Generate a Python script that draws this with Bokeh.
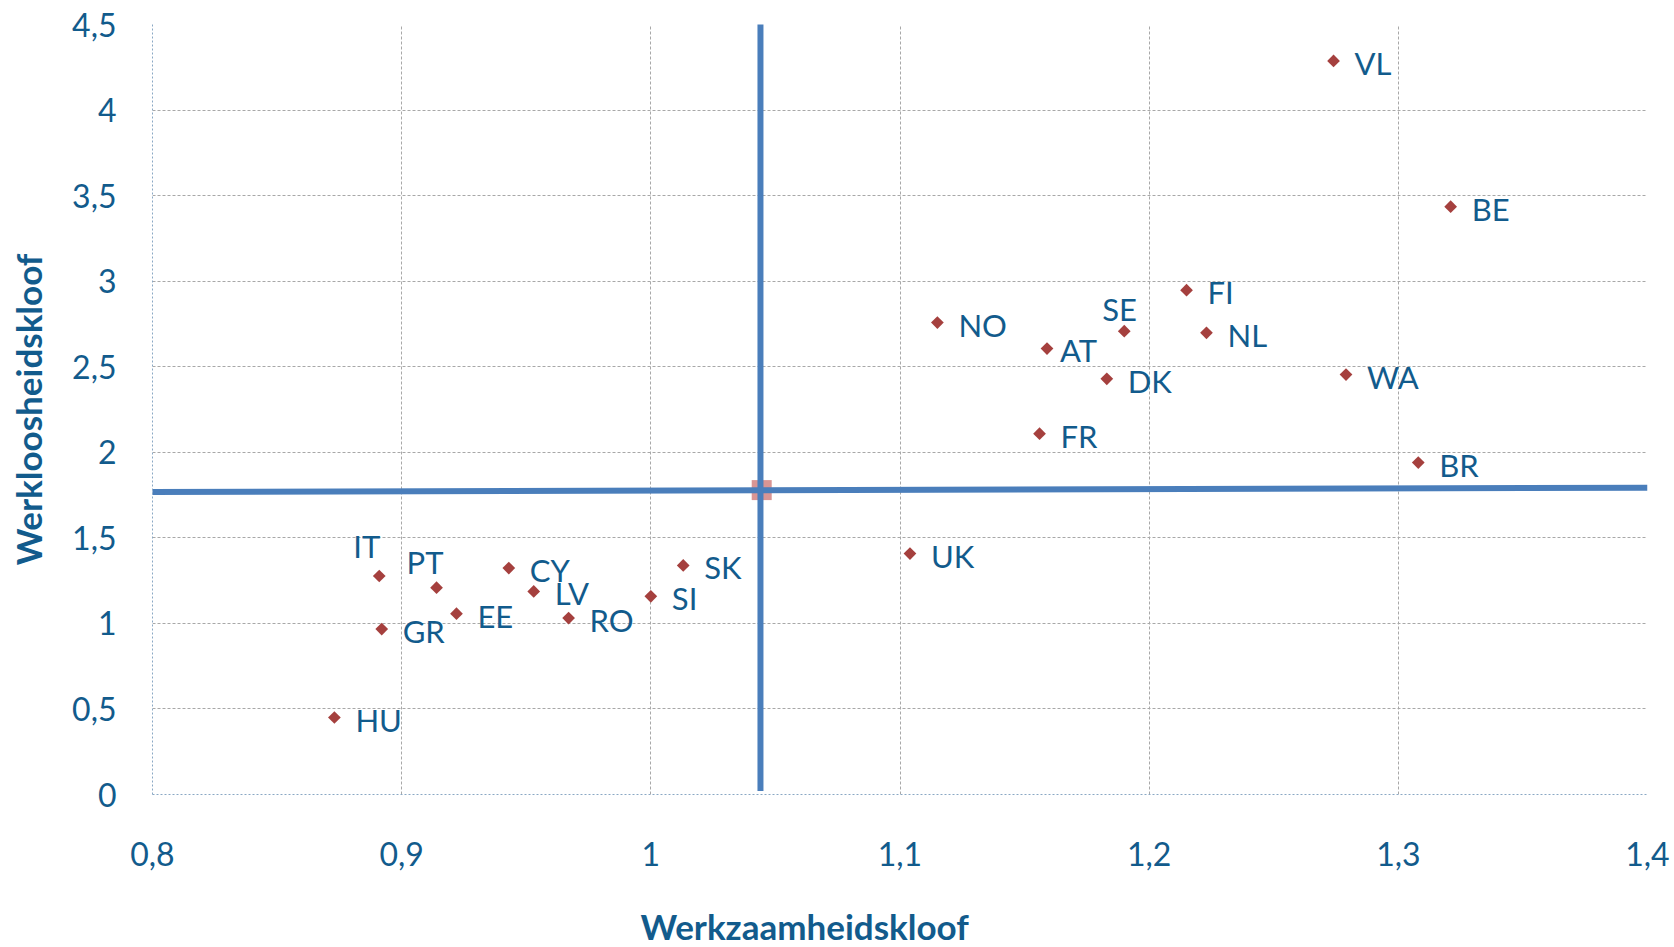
from bokeh.plotting import figure
from bokeh.models import (ColumnDataSource, Title, FixedTicker, CustomJSTickFormatter,
                          LabelSet, Range1d)
from bokeh.core.properties import value
from bokeh.embed import file_html
from bokeh.resources import INLINE

# ---- data ----
countries = ["VL", "BE", "FI", "SE", "NL", "NO", "AT", "DK", "WA", "FR", "BR", "UK",
             "SK", "CY", "IT", "PT", "LV", "SI", "EE", "RO", "GR", "HU"]
werkzaamheidskloof = [1.274, 1.321, 1.215, 1.190, 1.223, 1.115, 1.159, 1.183, 1.279, 1.156, 1.308, 1.104,
                      1.013, 0.943, 0.891, 0.914, 0.953, 1.000, 0.922, 0.967, 0.892, 0.873]
werkloosheidskloof = [4.287, 3.435, 2.947, 2.708, 2.698, 2.758, 2.606, 2.429, 2.454, 2.109, 1.940, 1.408,
                      1.339, 1.323, 1.277, 1.209, 1.187, 1.158, 1.057, 1.031, 0.967, 0.450]

# reference lines (averages) and their crossing point
hline_x = [0.797, 1.400]
hline_y = [1.768, 1.793]
vline_x = [1.044, 1.044]
vline_y = [0.02, 4.54]
center_x = [1.0445]
center_y = [1.779]

x_ticks = [0.8, 0.9, 1.0, 1.1, 1.2, 1.3, 1.4]
y_ticks = [0, 0.5, 1, 1.5, 2, 2.5, 3, 3.5, 4, 4.5]

x_title = "Werkzaamheidskloof"
y_title = "Werkloosheidskloof"

# ---- styling ----
FONT = "Lato"
TXT = "#125B8C"
DOT = "#A5403E"
LINE = "#4A7EBB"
GRID = "#A8A8A8"

default_offset = (21, -2)          # label offset from marker in screen px (x right, y up)
special_offsets = {"IT": (-26, 30), "PT": (-30, 26), "SE": (-22, 22), "AT": (13, -1)}
x_off = [special_offsets.get(c, default_offset)[0] for c in countries]
y_off = [special_offsets.get(c, default_offset)[1] for c in countries]

src = ColumnDataSource(dict(x=werkzaamheidskloof, y=werkloosheidskloof, name=countries,
                            xo=x_off, yo=y_off))

p = figure(width=1674, height=947, x_range=Range1d(0.8, 1.4), y_range=Range1d(0, 4.5),
           output_backend="svg", toolbar_location=None,
           min_border_left=152, min_border_right=27, min_border_top=24, min_border_bottom=153)
p.outline_line_color = None
p.background_fill_color = "white"
p.border_fill_color = "white"

fmt = CustomJSTickFormatter(code="""
const r = Math.round(tick*10)/10;
return r.toString().replace('.', ',');
""")

p.xaxis.ticker = FixedTicker(ticks=x_ticks)
p.yaxis.ticker = FixedTicker(ticks=y_ticks)
for ax in (p.xaxis[0], p.yaxis[0]):
    ax.formatter = fmt
    ax.major_tick_in = 0
    ax.major_tick_out = 0
    ax.minor_tick_line_color = None
    ax.major_tick_line_color = None
    ax.axis_line_color = "#8AA8C4"
    ax.axis_line_dash = "2 2"
    ax.axis_line_width = 1
    ax.major_label_text_font = FONT
    ax.major_label_text_font_size = "32px"
    ax.major_label_text_color = TXT

p.xaxis.major_label_standoff = 47
p.yaxis.major_label_standoff = 36

# tiny blank axis label on x: only a spacer that pushes the title towards the bottom
p.xaxis.axis_label = " "
p.xaxis.axis_label_text_font_size = "1px"
p.xaxis.axis_label_standoff = 30

p.yaxis.axis_label = y_title
p.yaxis.axis_label_text_font = FONT
p.yaxis.axis_label_text_font_size = "35px"
p.yaxis.axis_label_text_font_style = "bold"
p.yaxis.axis_label_text_color = TXT
p.yaxis.axis_label_standoff = 20

p.xgrid.ticker = FixedTicker(ticks=x_ticks)
p.ygrid.ticker = FixedTicker(ticks=y_ticks)
for g in (p.xgrid[0], p.ygrid[0]):
    g.grid_line_color = GRID
    g.grid_line_dash = "3 2"
    g.grid_line_width = 1

# x axis title, off-centre like the reference
p.add_layout(Title(text=x_title, align="left", offset=488, standoff=0,
                   text_font=FONT, text_font_size="35px", text_font_style="bold",
                   text_color=TXT), "below")

# center marker (under the lines)
p.scatter(center_x, center_y, marker="square", size=20, fill_color="#D58A88",
          line_color=None, fill_alpha=0.9)

p.line(hline_x, hline_y, line_color=LINE, line_width=6)
p.line(vline_x, vline_y, line_color=LINE, line_width=6)

p.scatter("x", "y", source=src, marker="square", size=9, angle=0.785398,
          fill_color=DOT, line_color=None)

labels = LabelSet(x="x", y="y", text="name", source=src, x_offset="xo", y_offset="yo",
                  text_font=value(FONT), text_font_size="31px", text_color=TXT,
                  text_baseline="middle", text_align="left")
p.add_layout(labels)

open("out.html", "w").write(file_html(p, INLINE))
